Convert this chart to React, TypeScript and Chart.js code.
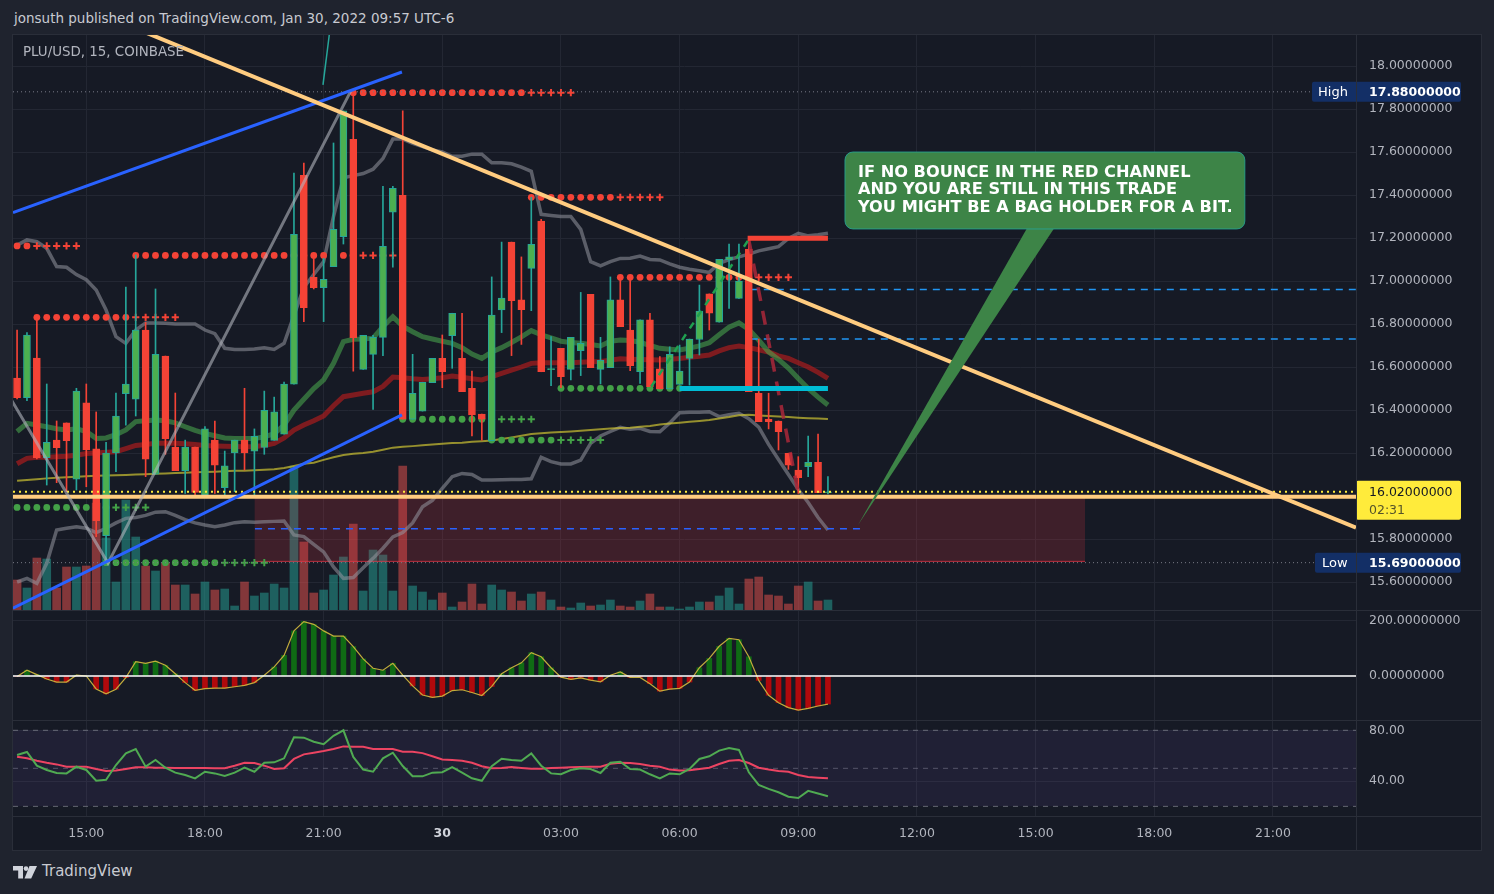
import React, { useEffect, useRef } from "react";
import { Chart, registerables } from "chart.js";

Chart.register(...registerables);

// ---------------- data ----------------
const candleStartHour = 13.25; // Jan 29, 13:15 (UTC-6), hours since Jan 29 00:00
const candleStepHour = 0.25; // 15 minute candles

const opens = [16.549, 16.457, 16.642, 16.178, 16.26, 16.34, 16.078, 16.433, 16.219, 15.815,
  16.2, 16.476, 16.45, 16.772, 16.101, 16.651, 16.228, 16.118, 16.228, 16.005,
  16.26, 16.039, 16.2, 16.26, 16.209, 16.226, 16.259, 16.288, 16.52, 17.492,
  17.017, 16.969, 17.067, 17.206, 17.659, 16.589, 16.659, 16.738, 17.32, 17.399,
  16.357, 16.395, 16.527, 16.64, 16.746, 16.64, 16.501, 16.381, 16.257, 16.865,
  17.181, 16.912, 17.059, 17.279, 16.588, 16.687, 16.589, 16.676, 16.938, 16.589,
  16.597, 16.912, 16.772, 16.578, 16.819, 16.591, 16.498, 16.519, 16.64, 16.728,
  16.94, 16.808, 17.098, 16.919, 17.147, 16.478, 16.357, 16.349, 16.199, 16.121,
  16.136, 16.157, 16.015];
const highs = [16.772, 16.76, 16.819, 16.521, 16.349, 16.34, 16.501, 16.521, 16.391, 16.25,
  16.479, 16.972, 17.121, 16.808, 16.963, 16.651, 16.479, 16.26, 16.228, 16.323,
  16.349, 16.209, 16.26, 16.501, 16.312, 16.488, 16.46, 16.53, 17.502, 17.549,
  17.105, 17.105, 17.642, 17.791, 17.88, 16.747, 16.747, 17.44, 17.44, 17.791,
  16.659, 16.529, 16.64, 16.749, 16.85, 16.85, 16.581, 16.381, 17.019, 17.181,
  17.181, 17.112, 17.389, 17.287, 16.741, 16.687, 16.738, 16.947, 16.938, 16.738,
  17.019, 17.005, 17.005, 16.819, 16.85, 16.648, 16.694, 16.702, 16.73, 16.981,
  16.94, 17.101, 17.172, 17.172, 17.199, 16.73, 16.478, 16.349, 16.199, 16.183,
  16.279, 16.288, 16.09];
const lows = [16.451, 16.443, 16.172, 16.051, 16.062, 16.02, 16.028, 16.043, 15.811, 15.69,
  16.113, 16.33, 16.372, 16.09, 16.101, 16.194, 16.118, 16.012, 16.005, 16.005,
  16.012, 16.005, 16.02, 16.121, 16.005, 16.194, 16.259, 16.288, 16.52, 16.811,
  16.963, 16.811, 17.067, 17.172, 16.581, 16.589, 16.403, 16.653, 17.064, 16.357,
  16.357, 16.395, 16.527, 16.504, 16.594, 16.485, 16.279, 16.26, 16.257, 16.76,
  16.653, 16.705, 16.862, 16.578, 16.513, 16.504, 16.54, 16.56, 16.597, 16.521,
  16.597, 16.788, 16.583, 16.524, 16.508, 16.498, 16.498, 16.519, 16.516, 16.656,
  16.772, 16.808, 16.873, 16.919, 16.485, 16.346, 16.312, 16.214, 16.124, 16.012,
  16.09, 16.015, 16.01];
const closes = [16.457, 16.749, 16.177, 16.25, 16.225, 16.257, 16.488, 16.214, 15.885, 16.2,
  16.372, 16.521, 16.772, 16.171, 16.659, 16.267, 16.118, 16.228, 16.017, 16.312,
  16.144, 16.14, 16.26, 16.2, 16.278, 16.399, 16.391, 16.521, 17.217, 16.876,
  16.969, 17.008, 17.24, 17.791, 16.736, 16.747, 16.738, 17.161, 17.431, 16.357,
  16.478, 16.529, 16.64, 16.578, 16.85, 16.485, 16.377, 16.357, 16.842, 16.92,
  16.909, 16.867, 17.171, 16.578, 16.59, 16.555, 16.738, 16.71, 16.597, 16.631,
  16.912, 16.788, 16.606, 16.819, 16.508, 16.498, 16.659, 16.581, 16.73, 16.86,
  16.85, 17.101, 17.112, 17.0, 16.485, 16.346, 16.346, 16.299, 16.144, 16.085,
  16.157, 16.015, 16.02];
const volumes = [30, 22, 52, 51, 22, 43, 43, 44, 107, 72,
  28, 110, 73, 44, 39, 47, 25, 25, 16, 28,
  20, 21, 4, 28, 14, 17, 26, 22, 144, 68,
  17, 20, 35, 53, 86, 19, 60, 55, 19, 144,
  24, 18, 10, 17, 3, 8, 26, 6, 25, 20,
  18, 9, 16, 18, 10, 3, 2, 7, 4, 5,
  10, 4, 3, 9, 16, 3, 3, 1, 3, 8,
  8, 14, 22, 6, 31, 33, 15, 14, 6, 24,
  28, 9, 10];
const upperBand = [17.167, 17.191, 17.183, 17.152, 17.067, 17.064, 17.03, 17.006, 16.958, 16.865,
  16.741, 16.71, 16.772, 16.805, 16.805, 16.803, 16.8, 16.8, 16.8, 16.772,
  16.755, 16.687, 16.682, 16.682, 16.684, 16.69, 16.682, 16.71, 16.84, 16.97,
  17.03, 17.09, 17.3, 17.48, 17.49, 17.5, 17.52, 17.57, 17.66, 17.66,
  17.64, 17.625, 17.61, 17.6, 17.58, 17.58, 17.59, 17.59, 17.55, 17.55,
  17.545, 17.53, 17.51, 17.31, 17.305, 17.3, 17.3, 17.24, 17.09, 17.07,
  17.09, 17.105, 17.106, 17.116, 17.1, 17.098, 17.08, 17.064, 17.055, 17.048,
  17.04, 17.082, 17.1, 17.112, 17.125, 17.14, 17.15, 17.16, 17.198, 17.222,
  17.21, 17.215, 17.222];
const lowerBand = [15.6, 15.617, 15.594, 15.687, 15.842, 15.85, 15.857, 15.85, 15.83, 15.85,
  15.875, 15.896, 15.9, 15.91, 15.925, 15.927, 15.91, 15.89, 15.875, 15.865,
  15.857, 15.865, 15.876, 15.88, 15.878, 15.88, 15.882, 15.884, 15.819, 15.811,
  15.775, 15.74, 15.67, 15.617, 15.621, 15.666, 15.71, 15.757, 15.81, 15.83,
  15.875, 15.95, 15.98, 16.035, 16.09, 16.105, 16.1, 16.074, 16.075, 16.076,
  16.077, 16.077, 16.08, 16.18, 16.16, 16.149, 16.149, 16.167, 16.245, 16.279,
  16.3, 16.319, 16.31, 16.315, 16.3, 16.299, 16.34, 16.387, 16.39, 16.39,
  16.392, 16.369, 16.378, 16.385, 16.36, 16.32, 16.24, 16.17, 16.1, 16.03,
  15.97, 15.9, 15.842];
const maGreen = [16.3, 16.338, 16.33, 16.322, 16.313, 16.307, 16.313, 16.3, 16.268, 16.27,
  16.285, 16.307, 16.346, 16.35, 16.353, 16.35, 16.34, 16.322, 16.305, 16.291,
  16.28, 16.27, 16.268, 16.268, 16.268, 16.275, 16.29, 16.33, 16.4, 16.45,
  16.5, 16.54, 16.617, 16.718, 16.729, 16.73, 16.734, 16.788, 16.834, 16.79,
  16.764, 16.741, 16.73, 16.72, 16.71, 16.69, 16.66, 16.64, 16.67, 16.69,
  16.714, 16.74, 16.769, 16.75, 16.735, 16.72, 16.714, 16.71, 16.705, 16.698,
  16.72, 16.726, 16.723, 16.715, 16.7, 16.687, 16.683, 16.679, 16.688, 16.698,
  16.713, 16.75, 16.785, 16.805, 16.775, 16.725, 16.67, 16.635, 16.595, 16.547,
  16.5, 16.46, 16.423];
const maRed = [16.15, 16.175, 16.18, 16.18, 16.183, 16.185, 16.19, 16.198, 16.2, 16.203,
  16.206, 16.22, 16.235, 16.24, 16.245, 16.245, 16.245, 16.243, 16.24, 16.235,
  16.233, 16.232, 16.23, 16.229, 16.23, 16.235, 16.245, 16.27, 16.307, 16.33,
  16.35, 16.372, 16.42, 16.462, 16.47, 16.478, 16.485, 16.51, 16.553, 16.55,
  16.545, 16.542, 16.545, 16.55, 16.558, 16.552, 16.545, 16.54, 16.555, 16.57,
  16.585, 16.6, 16.617, 16.62, 16.62, 16.62, 16.62, 16.622, 16.624, 16.626,
  16.632, 16.638, 16.636, 16.635, 16.634, 16.633, 16.636, 16.64, 16.645, 16.65,
  16.656, 16.675, 16.69, 16.698, 16.69, 16.68, 16.67, 16.652, 16.64, 16.62,
  16.6, 16.575, 16.547];
const maOlive = [16.071, 16.075, 16.078, 16.082, 16.085, 16.087, 16.09, 16.092, 16.094, 16.095,
  16.096, 16.098, 16.1, 16.101, 16.103, 16.105, 16.107, 16.108, 16.11, 16.112,
  16.113, 16.115, 16.117, 16.118, 16.12, 16.122, 16.124, 16.13, 16.14, 16.15,
  16.155, 16.168, 16.18, 16.191, 16.196, 16.2, 16.206, 16.215, 16.225, 16.229,
  16.232, 16.236, 16.24, 16.243, 16.246, 16.248, 16.252, 16.255, 16.258, 16.265,
  16.272, 16.28, 16.288, 16.292, 16.295, 16.298, 16.3, 16.303, 16.307, 16.311,
  16.314, 16.316, 16.318, 16.322, 16.326, 16.333, 16.337, 16.341, 16.345, 16.349,
  16.353, 16.36, 16.367, 16.376, 16.378, 16.375, 16.372, 16.37, 16.367, 16.364,
  16.362, 16.36, 16.358];
const macdHist = [-2, 21, 5, -11, -22, -22, 3, 0, -47, -65,
  -48, -6, 52, 46, 54, 39, 8, -24, -52, -46,
  -44, -44, -39, -34, -24, 3, 33, 75, 164, 198,
  188, 164, 145, 145, 107, 62, 28, 21, 46, 3,
  -36, -69, -78, -73, -53, -50, -60, -71, -38, 8,
  30, 48, 85, 70, 30, -4, -12, -7, -15, -21,
  3, 15, -5, -5, -28, -55, -48, -45, -22, 30,
  64, 108, 137, 132, 70, -16, -70, -97, -115, -124,
  -118, -109, -102];
const stochK = [60.5, 62.9, 52.1, 48.7, 46.3, 46.0, 51.3, 48.7, 40.2, 41.0,
  52.6, 61.8, 65.2, 51.3, 56.6, 50.5, 46.6, 44.7, 42.1, 47.3,
  46.0, 44.0, 46.6, 50.5, 47.3, 54.4, 54.7, 57.9, 74.5, 74.2,
  71.0, 69.0, 75.7, 80.0, 59.0, 49.0, 47.3, 57.9, 62.3, 51.8,
  43.7, 43.7, 46.6, 46.9, 51.0, 46.6, 42.1, 40.2, 51.6, 57.6,
  56.5, 56.0, 61.8, 52.1, 46.0, 45.3, 48.7, 50.0, 49.5, 46.3,
  54.4, 55.2, 49.5, 49.0, 45.3, 42.1, 46.0, 45.3, 49.5, 57.4,
  59.5, 64.0, 66.0, 64.5, 46.9, 37.0, 33.8, 31.1, 27.6, 26.6,
  32.2, 30.1, 28.0];
const stochD = [59.2, 57.9, 56.0, 54.4, 53.1, 51.3, 51.3, 51.3, 49.5, 47.9,
  48.2, 49.5, 50.8, 50.8, 50.5, 50.5, 50.3, 50.3, 50.3, 50.3,
  50.0, 50.0, 52.1, 54.4, 54.2, 52.1, 49.5, 50.0, 57.4, 61.0,
  62.3, 63.6, 65.2, 67.3, 67.0, 67.0, 65.2, 65.2, 65.2, 63.1,
  63.1, 62.0, 59.5, 57.0, 56.5, 56.0, 54.4, 51.6, 50.0, 50.3,
  51.0, 50.3, 49.7, 49.7, 50.3, 50.5, 50.8, 51.0, 51.3, 51.3,
  53.6, 54.4, 54.2, 53.4, 52.1, 51.3, 49.0, 48.2, 48.4, 49.5,
  50.5, 53.4, 56.0, 56.5, 54.2, 50.5, 49.0, 47.9, 47.3, 44.7,
  43.2, 42.6, 42.1];

// pivot levels (candle index ranges)
const resistanceLevels = [17.163, 16.831, 17.119, 17.876, 17.389, 17.017];
const resistanceDotFrom = [0, 2, 12, 34, 52, 61];
const resistanceDotTo = [1, 11, 33, 51, 60, 74];
const resistanceCrossTo = [6, 16, 38, 56, 65, 78];
const supportLevels = [15.947, 15.69, 16.357, 16.26, 16.501];
const supportDotFrom = [0, 9, 39, 48, 55];
const supportDotTo = [9, 20, 48, 54, 67];
const supportCrossTo = [13, 25, 52, 59, 67];

// ticks
const priceTicks = [15.6, 15.8, 16.0, 16.2, 16.4, 16.6, 16.8, 17.0, 17.2, 17.4, 17.6, 17.8, 18.0];
const timeTicks = [15, 18, 21, 24, 27, 30, 33, 36, 39, 42, 45];
const timeTickLabels = ["15:00", "18:00", "21:00", "30", "03:00", "06:00", "09:00", "12:00", "15:00", "18:00", "21:00"];
const macdTicks = [0, 200];
const oscTicks = [40, 80];
const oscBands = [80, 50, 20];

// price markers
const highPrice = 17.88;
const lowPrice = 15.69;
const lastPrice = 16.02;
const countdown = "02:31";

// drawings: [hour, price]
const orangeTrend = [[15.5, 18.231], [47.1, 15.853]];
const blueUpper = [[13.147, 17.318], [22.98, 17.972]];
const blueLower = [[13.147, 15.478], [22.98, 16.377]];
const grayPath = [[13.0, 16.48], [15.549, 15.688], [21.699, 17.888]];
const tealStroke = [[20.984, 17.912], [21.18, 18.2]];
const greenProjection = [[29.28, 16.508], [31.75, 17.194]];
const redProjection = [[31.75, 17.19], [33.0, 16.012]];
const cyanLevel = [[30.0, 16.5], [33.75, 16.5]];
const redLevel = [[31.72, 17.199], [33.75, 17.199]];
const blueDashA = [[31.8, 16.961], [47.1, 16.961]];
const blueDashB = [[31.8, 16.73], [47.1, 16.73]];
const blueDashC = [[19.264, 15.848], [34.56, 15.848]];
const zoneHours = [19.25, 40.25];
const zonePrices = [15.997, 15.696];
const peachLevel = 15.996;

const calloutLines = [
  "IF NO BOUNCE IN THE RED CHANNEL",
  "AND YOU ARE STILL IN THIS TRADE",
  "YOU MIGHT BE A BAG HOLDER FOR A BIT.",
];
const calloutBoxHours = [34.18, 44.29];
const calloutBoxPrices = [17.6, 17.242];
const calloutBaseHours = [38.8, 39.49];
const calloutTip = [34.51, 15.865];

// ---------------- config ----------------
const xMin = 13.147;
const xMax = 47.1;
const priceMin = 15.4698;
const priceMax = 18.1442;

const GRID = "#232733";
const AXIS_TEXT = "#b2b5be";
const FONT = "'DejaVu Sans', sans-serif";

const tOf = (i: number) => candleStartHour + i * candleStepHour;
const series = (arr: number[]) => arr.map((v, i) => ({ x: tOf(i), y: v }));
const pts = (arr: number[][]) => arr.map(([x, y]) => ({ x, y }));
const isUp = (i: number) => closes[i] >= opens[i];

const noPad = (s: any) => {
  s.paddingTop = 0;
  s.paddingBottom = 0;
  s.paddingLeft = 0;
  s.paddingRight = 0;
};

function xScale(showLabels: boolean) {
  return {
    type: "linear",
    min: xMin,
    max: xMax,
    offset: false,
    afterBuildTicks: (s: any) => {
      s.ticks = timeTicks.map((v) => ({ value: v }));
    },
    afterFit: (s: any) => {
      s.height = showLabels ? 34 : 0;
      noPad(s);
    },
    grid: { color: GRID, drawTicks: false, offset: false },
    border: { display: false },
    ticks: showLabels
      ? {
          padding: 10,
          maxRotation: 0,
          autoSkip: false,
          color: (c: any) => (c.tick && c.tick.value === 24 ? "#d1d4dc" : AXIS_TEXT),
          font: (c: any) => ({ family: FONT, size: 12.5, weight: c.tick && c.tick.value === 24 ? "bold" : "normal" }),
          callback: (v: any) => {
            const k = timeTicks.indexOf(Number(v));
            return k >= 0 ? timeTickLabels[k] : "";
          },
        }
      : { display: false },
  };
}

function yScale(min: number, max: number, ticks: number[], digits: number) {
  return {
    type: "linear",
    position: "right",
    min,
    max,
    afterBuildTicks: (s: any) => {
      s.ticks = ticks.map((v) => ({ value: v }));
    },
    afterFit: (s: any) => {
      s.width = 125;
      noPad(s);
    },
    grid: { color: GRID, drawTicks: false },
    border: { display: false },
    ticks: {
      color: AXIS_TEXT,
      font: { family: FONT, size: 12.5 },
      padding: 13,
      crossAlign: "near",
      autoSkip: false,
      callback: (v: any) => Number(v).toFixed(digits),
    },
  };
}

function line(label: string, data: any[], color: string, width: number, order: number, extra: any = {}) {
  return {
    type: "line",
    label,
    data,
    borderColor: color,
    borderWidth: width,
    pointRadius: 0,
    fill: false,
    tension: 0,
    clip: 0,
    order,
    yAxisID: "y",
    ...extra,
  };
}

function pivotDatasets(levels: number[], from: number[], dotTo: number[], crossTo: number[], color: string) {
  const out: any[] = [];
  levels.forEach((lvl, k) => {
    const dots = [];
    for (let i = from[k]; i <= dotTo[k]; i++) dots.push({ x: tOf(i), y: lvl });
    const crosses = [];
    for (let i = dotTo[k] + 1; i <= crossTo[k]; i++) crosses.push({ x: tOf(i), y: lvl });
    out.push({
      type: "line", label: "pivot", data: dots, showLine: false, pointStyle: "circle",
      pointRadius: 3.4, pointBackgroundColor: color, pointBorderWidth: 0, order: 80, yAxisID: "y",
    });
    if (crosses.length)
      out.push({
        type: "line", label: "pivot+", data: crosses, showLine: false, pointStyle: "cross",
        pointRadius: 3.6, pointBorderColor: color, pointBorderWidth: 2, order: 80, yAxisID: "y",
      });
  });
  return out;
}

const priceTagsPlugin = {
  id: "priceTags",
  afterDraw(chart: any) {
    const { ctx, chartArea, scales } = chart;
    const ys = scales.y;
    const r = chartArea.right;
    const box = (x: number, y: number, w: number, h: number, fill: string) => {
      ctx.fillStyle = fill;
      ctx.beginPath();
      if (ctx.roundRect) ctx.roundRect(x, y, w, h, 2);
      else ctx.rect(x, y, w, h);
      ctx.fill();
    };
    ctx.save();
    ctx.textBaseline = "middle";
    ctx.textAlign = "left";
    const hy = ys.getPixelForValue(highPrice);
    box(r - 44, hy - 10, 149, 20, "#132f66");
    ctx.fillStyle = "#ffffff";
    ctx.font = `13px ${FONT}`;
    ctx.fillText("High", r - 38, hy + 1);
    ctx.font = `bold 12.5px ${FONT}`;
    ctx.fillText(highPrice.toFixed(8), r + 13, hy + 1);

    const ly = ys.getPixelForValue(lowPrice);
    box(r - 41, ly - 10, 146, 20, "#132f66");
    ctx.fillStyle = "#ffffff";
    ctx.font = `13px ${FONT}`;
    ctx.fillText("Low", r - 34, ly + 1);
    ctx.font = `bold 12.5px ${FONT}`;
    ctx.fillText(lowPrice.toFixed(8), r + 13, ly + 1);

    const py = ys.getPixelForValue(lastPrice);
    box(r, py - 11, 105, 39, "#ffeb3b");
    ctx.fillStyle = "#131722";
    ctx.font = `12.5px ${FONT}`;
    ctx.fillText(lastPrice.toFixed(8), r + 13, py + 1);
    ctx.fillStyle = "#55532a";
    ctx.fillText(countdown, r + 13, py + 19);
    ctx.restore();
  },
};

const calloutPlugin = {
  id: "callout",
  afterDatasetsDraw(chart: any) {
    const { ctx, scales } = chart;
    const xs = scales.x;
    const ys = scales.y;
    const x1 = xs.getPixelForValue(calloutBoxHours[0]);
    const x2 = xs.getPixelForValue(calloutBoxHours[1]);
    const y1 = ys.getPixelForValue(calloutBoxPrices[0]);
    const y2 = ys.getPixelForValue(calloutBoxPrices[1]);
    const b1 = xs.getPixelForValue(calloutBaseHours[0]);
    const b2 = xs.getPixelForValue(calloutBaseHours[1]);
    const tx = xs.getPixelForValue(calloutTip[0]);
    const ty = ys.getPixelForValue(calloutTip[1]);
    ctx.save();
    ctx.fillStyle = "#3d8447";
    ctx.beginPath();
    ctx.moveTo(b1, y2 - 2);
    ctx.lineTo(b2, y2 - 2);
    ctx.lineTo(tx, ty);
    ctx.closePath();
    ctx.fill();
    ctx.strokeStyle = "rgba(38,166,154,0.8)";
    ctx.lineWidth = 1;
    ctx.beginPath();
    if (ctx.roundRect) ctx.roundRect(x1, y1, x2 - x1, y2 - y1, 8);
    else ctx.rect(x1, y1, x2 - x1, y2 - y1);
    ctx.fill();
    ctx.stroke();
    ctx.fillStyle = "#ffffff";
    ctx.font = `bold 16.2px ${FONT}`;
    ctx.textBaseline = "middle";
    ctx.textAlign = "left";
    calloutLines.forEach((t, k) => ctx.fillText(t, x1 + 13, y1 + 20.5 + k * 17.5));
    ctx.restore();
  },
};

const baseOptions = {
  responsive: false,
  maintainAspectRatio: false,
  animation: false,
  events: [],
  layout: { padding: 0, autoPadding: false },
  plugins: { legend: { display: false }, tooltip: { enabled: false } },
};

export default function App() {
  const mainRef = useRef<HTMLCanvasElement>(null);
  const macdRef = useRef<HTMLCanvasElement>(null);
  const oscRef = useRef<HTMLCanvasElement>(null);

  useEffect(() => {
    const n = opens.length;
    const idx = Array.from({ length: n }, (_, i) => i);

    const mainDatasets: any[] = [
      {
        type: "bar", label: "Volume", yAxisID: "yVol", data: series(volumes),
        backgroundColor: idx.map((i) => (isUp(i) ? "rgba(38,166,154,0.5)" : "rgba(239,83,80,0.5)")),
        barThickness: 8, grouped: false, order: 100,
      },
      line("zoneTop", pts([[zoneHours[0], zonePrices[0]], [zoneHours[1], zonePrices[0]]]), "rgba(242,54,69,0.6)", 1, 96),
      line("zoneBottom", pts([[zoneHours[0], zonePrices[1]], [zoneHours[1], zonePrices[1]]]), "rgba(242,54,69,0.75)", 1, 95, {
        fill: "-1", backgroundColor: "rgba(242,54,69,0.18)",
      }),
      line("Upper band", series(upperBand), "rgba(149,152,161,0.55)", 3.5, 90),
      line("Lower band", series(lowerBand), "rgba(149,152,161,0.55)", 3.5, 90),
      line("MA olive", series(maOlive), "rgba(205,195,50,0.7)", 2, 88),
      line("MA red", series(maRed), "rgba(183,28,28,0.65)", 5, 87),
      line("MA green", series(maGreen), "rgba(76,175,80,0.55)", 5, 86),
      ...pivotDatasets(resistanceLevels, resistanceDotFrom, resistanceDotTo, resistanceCrossTo, "#f44336"),
      ...pivotDatasets(supportLevels, supportDotFrom, supportDotTo, supportCrossTo, "#43a047"),
      line("blue dash A", pts(blueDashA), "#2196f3", 1.5, 75, { borderDash: [7, 6] }),
      line("blue dash B", pts(blueDashB), "#2196f3", 1.5, 75, { borderDash: [7, 6] }),
      line("blue dash C", pts(blueDashC), "#2962ff", 1.5, 75, { borderDash: [7, 6] }),
      line("High", pts([[xMin, highPrice], [xMax, highPrice]]), "#787b86", 1, 70, { borderDash: [1, 3] }),
      line("Low", pts([[xMin, lowPrice], [xMax, lowPrice]]), "#787b86", 1, 70, { borderDash: [1, 3] }),
      {
        type: "bar", label: "wicks", yAxisID: "y",
        data: idx.map((i) => ({ x: tOf(i), y: [lows[i], highs[i]] })),
        backgroundColor: idx.map((i) => (isUp(i) ? "#26a69a" : "#f44336")),
        barThickness: 1, grouped: false, order: 21,
      },
      {
        type: "bar", label: "bodies", yAxisID: "y",
        data: idx.map((i) => ({ x: tOf(i), y: [opens[i], closes[i]] })),
        backgroundColor: idx.map((i) => (isUp(i) ? "#4caf50" : "#f44336")),
        borderColor: idx.map((i) => (isUp(i) ? "#26a69a" : "#f44336")),
        borderWidth: 1, borderSkipped: false, barThickness: 7, grouped: false, minBarLength: 1, order: 20,
      },
      line("peach level", pts([[xMin, peachLevel], [xMax, peachLevel]]), "#ffcc80", 4, 6),
      line("last price", pts([[xMin, lastPrice], [xMax, lastPrice]]), "#ffeb3b", 2, 5, { borderDash: [2, 4] }),
      line("cyan level", pts(cyanLevel), "#00bcd4", 5, 4),
      line("red level", pts(redLevel), "#f44336", 5, 4),
      line("green projection", pts(greenProjection), "#1fa050", 2.5, 4, { borderDash: [7, 7] }),
      line("red projection", pts(redProjection), "rgba(170,40,58,0.85)", 3.5, 4, { borderDash: [14, 10] }),
      line("blue upper", pts(blueUpper), "#2962ff", 3, 3),
      line("blue lower", pts(blueLower), "#2962ff", 3, 3),
      line("gray path", pts(grayPath), "rgba(178,181,190,0.6)", 3, 3),
      line("teal stroke", pts(tealStroke), "#26a69a", 1.5, 3),
      line("orange trend", pts(orangeTrend), "#ffcc80", 4, 2),
    ];

    const mainChart = new Chart(mainRef.current as HTMLCanvasElement, {
      type: "bar",
      data: { datasets: mainDatasets },
      options: {
        ...baseOptions,
        scales: {
          x: xScale(false),
          y: yScale(priceMin, priceMax, priceTicks, 8),
          yVol: { type: "linear", display: false, min: 0, max: 575, afterFit: noPad },
        },
      } as any,
      plugins: [calloutPlugin, priceTagsPlugin],
    } as any);

    const macdChart = new Chart(macdRef.current as HTMLCanvasElement, {
      type: "bar",
      data: {
        datasets: [
          {
            type: "bar", label: "Histogram", data: series(macdHist),
            backgroundColor: macdHist.map((v) => (v >= 0 ? "#0f6b14" : "#b0090c")),
            barThickness: 5, grouped: false, order: 10,
          },
          line("Histogram line", series(macdHist), "#c2ac3c", 1.2, 5),
          line("Zero", pts([[xMin, 0], [xMax, 0]]), "#ffffff", 1.5, 4),
        ] as any,
      },
      options: {
        ...baseOptions,
        scales: { x: xScale(false), y: yScale(-160, 236.36, macdTicks, 8) },
      } as any,
    } as any);

    const oscChart = new Chart(oscRef.current as HTMLCanvasElement, {
      type: "line",
      data: {
        datasets: [
          line("band80", pts([[xMin, oscBands[0]], [xMax, oscBands[0]]]), "rgba(120,123,134,0.8)", 1, 50, { borderDash: [5, 5] }),
          line("band20", pts([[xMin, oscBands[2]], [xMax, oscBands[2]]]), "rgba(120,123,134,0.8)", 1, 50, {
            borderDash: [5, 5], fill: "-1", backgroundColor: "rgba(126,87,194,0.1)",
          }),
          line("band50", pts([[xMin, oscBands[1]], [xMax, oscBands[1]]]), "rgba(120,123,134,0.6)", 1, 50, { borderDash: [5, 5] }),
          line("%D", series(stochD), "#ec4462", 2, 10),
          line("%K", series(stochK), "#50aa52", 2, 9),
        ] as any,
      },
      options: {
        ...baseOptions,
        scales: { x: xScale(true), y: yScale(12.39, 87.34, oscTicks, 2) },
      } as any,
    } as any);

    return () => {
      mainChart.destroy();
      macdChart.destroy();
      oscChart.destroy();
    };
  }, []);

  const sep = (style: any) => <div style={{ position: "absolute", background: "#2a2e39", ...style }} />;

  return (
    <div style={{ position: "fixed", left: 0, top: 0, width: 1494, height: 894, background: "#1f232e", overflow: "hidden", fontFamily: FONT }}>
      <div style={{ position: "absolute", left: 14, top: 10, fontSize: 13.5, color: "#c8cad1", whiteSpace: "nowrap" }}>
        jonsuth published on TradingView.com, Jan 30, 2022 09:57 UTC-6
      </div>
      <div style={{ position: "absolute", left: 12, top: 34, width: 1468, height: 815, border: "1px solid #2a2e39", background: "#161a25" }} />
      <canvas ref={mainRef} width={1468} height={575} style={{ position: "absolute", left: 13, top: 35, width: 1468, height: 575 }} />
      <canvas ref={macdRef} width={1468} height={109} style={{ position: "absolute", left: 13, top: 611, width: 1468, height: 109 }} />
      <canvas ref={oscRef} width={1468} height={129} style={{ position: "absolute", left: 13, top: 721, width: 1468, height: 129 }} />
      {sep({ left: 13, top: 610, width: 1468, height: 1 })}
      {sep({ left: 13, top: 720, width: 1468, height: 1 })}
      {sep({ left: 13, top: 816, width: 1468, height: 1 })}
      {sep({ left: 1356, top: 35, width: 1, height: 815 })}
      <div style={{ position: "absolute", left: 23, top: 44, fontSize: 13.4, color: "#b2b5be", whiteSpace: "nowrap" }}>
        PLU/USD, 15, COINBASE
      </div>
      <svg style={{ position: "absolute", left: 13, top: 866 }} width={24} height={13} viewBox="0 0 24 13">
        <path d="M0 0 H10 V12.5 H5.2 V4.6 H0 Z" fill="#d1d4dc" />
        <circle cx={13} cy={2.6} r={2.3} fill="#d1d4dc" />
        <path d="M16.5 0 H24 L18.2 12.5 H11.5 Z" fill="#d1d4dc" />
      </svg>
      <div style={{ position: "absolute", left: 42, top: 862, fontSize: 15, color: "#c8cad1", whiteSpace: "nowrap" }}>
        TradingView
      </div>
    </div>
  );
}
